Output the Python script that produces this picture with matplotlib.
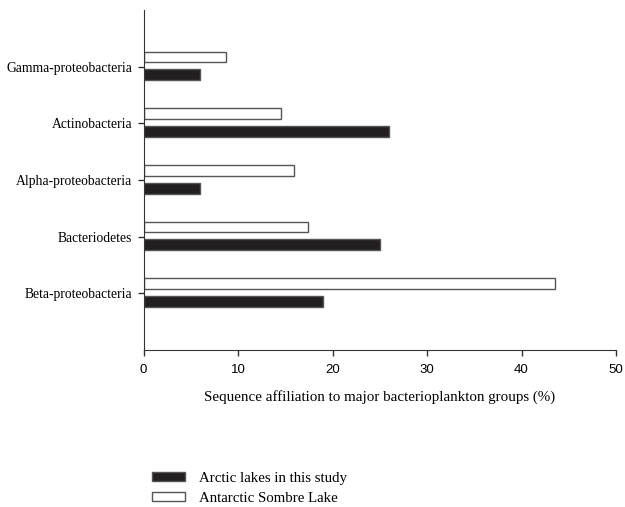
import matplotlib.pyplot as plt
import numpy as np
from matplotlib.patches import Patch

groups = ['Beta-proteobacteria', 'Bacteriodetes', 'Alpha-proteobacteria',
          'Actinobacteria', 'Gamma-proteobacteria']
arctic = [19.0, 25.0, 6.0, 26.0, 6.0]
antarctic = [43.5, 17.4, 15.9, 14.5, 8.7]

serif = 'Liberation Serif'
sans = 'Liberation Sans'

fig = plt.figure(figsize=(6.25, 5.07), dpi=100)
ax = fig.add_axes([0.2296, 0.3097, 0.756, 0.6706])

y = np.arange(len(groups))
h = 0.19
ax.barh(y + 0.17, antarctic, height=h, color='white', edgecolor='#555555', linewidth=1)
ax.barh(y - 0.145, arctic, height=h, color='#231f20', edgecolor='#555555', linewidth=1)

ax.set_xlim(0, 50)
ax.set_ylim(-1, 5)
ax.set_yticks(y)
ax.set_yticklabels(groups, fontfamily=serif, fontsize=9.8)
ax.set_xticks([0, 10, 20, 30, 40, 50])
ax.set_xticklabels(['0', '10', '20', '30', '40', '50'], fontfamily=sans, fontsize=9.5)
ax.tick_params(axis='both', direction='out', length=4, width=1, color='#333333')
ax.tick_params(axis='y', pad=4)
ax.tick_params(axis='x', pad=6)
ax.spines['top'].set_visible(False)
ax.spines['right'].set_visible(False)
ax.spines['left'].set_color('#333333')
ax.spines['bottom'].set_color('#333333')
ax.set_xlabel('Sequence affiliation to major bacterioplankton groups (%)',
              fontfamily=serif, fontsize=10.8, labelpad=10)

handles = [Patch(facecolor='#231f20', edgecolor='#555555', label='Arctic lakes in this study'),
           Patch(facecolor='white', edgecolor='#555555', label='Antarctic Sombre Lake')]
fig.legend(handles=handles, loc='upper left', bbox_to_anchor=(0.243, 0.069),
           frameon=False, prop={'family': serif, 'size': 10.7},
           handlelength=2.2, handleheight=0.6, handletextpad=1.0,
           labelspacing=0.45, borderaxespad=0, borderpad=0)

fig.savefig('out.png', dpi=100)
